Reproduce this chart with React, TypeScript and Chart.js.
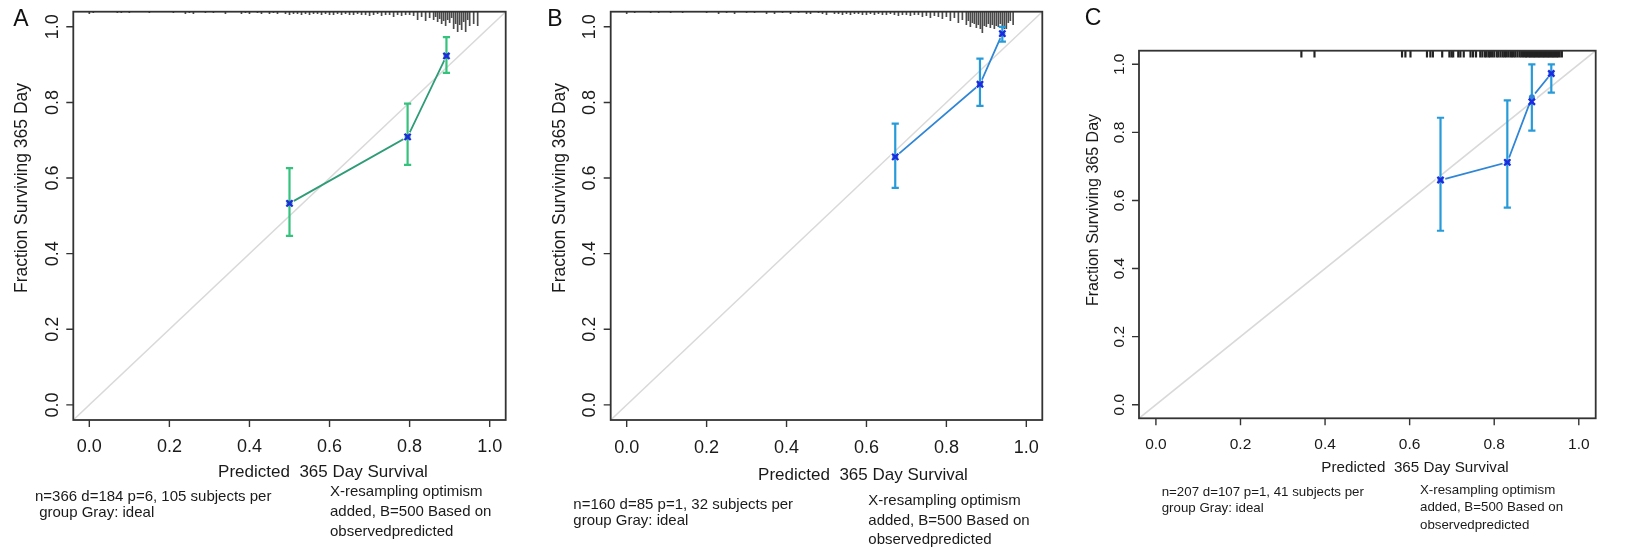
import React, { useEffect, useRef } from "react";
import { Chart, registerables } from "chart.js";

Chart.register(...registerables);

// ---------- shared axis data ----------
const AXIS_MIN = -0.04;
const AXIS_MAX = 1.04;
const xTicks = [0, 0.2, 0.4, 0.6, 0.8, 1.0];
const xTickLabels = ["0.0", "0.2", "0.4", "0.6", "0.8", "1.0"];
const yTicks = [0, 0.2, 0.4, 0.6, 0.8, 1.0];
const yTickLabels = ["0.0", "0.2", "0.4", "0.6", "0.8", "1.0"];
const xTitle = "Predicted  365 Day Survival";
const yTitle = "Fraction Surviving 365 Day";

// ---------- panel A ----------
const predA = [0.5, 0.795, 0.892];
const obsA = [0.533, 0.709, 0.923];
const corrA = [0.533, 0.709, 0.923];
const loA = [0.447, 0.635, 0.878];
const hiA = [0.626, 0.797, 0.973];
const rugAx = [0.00, 0.01, 0.07, 0.08, 0.10, 0.15, 0.21, 0.24, 0.25, 0.26, 0.29, 0.31, 0.34, 0.38, 0.39, 0.40, 0.42, 0.43, 0.45, 0.46, 0.47, 0.49, 0.50, 0.51, 0.52, 0.53, 0.54, 0.55, 0.56, 0.57, 0.58, 0.59, 0.60, 0.61, 0.62, 0.63, 0.64, 0.65, 0.66, 0.67, 0.68, 0.69, 0.70, 0.71, 0.72, 0.73, 0.74, 0.75, 0.76, 0.77, 0.78, 0.79, 0.80, 0.81, 0.82, 0.83, 0.84, 0.85, 0.86, 0.865, 0.87, 0.875, 0.88, 0.885, 0.89, 0.895, 0.90, 0.905, 0.91, 0.915, 0.92, 0.925, 0.93, 0.935, 0.94, 0.945, 0.95, 0.96, 0.97];
const rugAn = [2, 1, 1, 1, 1, 1, 1, 2, 1, 2, 1, 1, 2, 2, 1, 2, 1, 2, 2, 1, 2, 2, 3, 2, 2, 3, 2, 3, 2, 2, 3, 2, 3, 3, 2, 3, 2, 3, 3, 2, 3, 3, 4, 3, 2, 4, 3, 3, 5, 3, 4, 3, 3, 4, 8, 5, 9, 6, 8, 5, 10, 7, 12, 9, 14, 8, 11, 6, 17, 12, 20, 13, 18, 10, 20, 8, 14, 12, 14];
const notesLeftA = ["n=366 d=184 p=6, 105 subjects per", " group Gray: ideal"];
const notesRightA = ["X-resampling optimism", "added, B=500 Based on", "observedpredicted"];

// ---------- panel B ----------
const predB = [0.672, 0.884, 0.94];
const obsB = [0.656, 0.848, 0.982];
const corrB = [0.656, 0.848, 0.982];
const loB = [0.574, 0.791, 0.961];
const hiB = [0.744, 0.916, 1.0];
const rugBx = [0.00, 0.02, 0.06, 0.08, 0.11, 0.14, 0.20, 0.23, 0.25, 0.27, 0.30, 0.32, 0.35, 0.37, 0.39, 0.41, 0.43, 0.45, 0.46, 0.48, 0.49, 0.50, 0.52, 0.53, 0.54, 0.55, 0.56, 0.57, 0.58, 0.59, 0.60, 0.61, 0.62, 0.63, 0.64, 0.65, 0.66, 0.67, 0.68, 0.69, 0.70, 0.71, 0.72, 0.73, 0.74, 0.75, 0.76, 0.77, 0.78, 0.79, 0.80, 0.81, 0.82, 0.83, 0.84, 0.85, 0.855, 0.86, 0.865, 0.87, 0.875, 0.88, 0.885, 0.89, 0.895, 0.90, 0.905, 0.91, 0.915, 0.92, 0.925, 0.93, 0.935, 0.94, 0.945, 0.95, 0.955, 0.96, 0.967];
const rugBn = [2, 1, 1, 1, 1, 1, 1, 2, 1, 2, 1, 1, 2, 2, 1, 2, 1, 2, 2, 1, 2, 3, 2, 2, 3, 2, 3, 2, 2, 3, 3, 2, 3, 2, 3, 3, 2, 3, 4, 3, 3, 4, 3, 3, 5, 4, 6, 4, 5, 7, 5, 9, 6, 11, 8, 13, 9, 15, 11, 12, 16, 13, 17, 21, 14, 15, 12, 16, 13, 17, 14, 15, 12, 16, 18, 17, 11, 9, 13];
const notesLeftB = ["n=160 d=85 p=1, 32 subjects per", "group Gray: ideal"];
const notesRightB = ["X-resampling optimism", "added, B=500 Based on", "observedpredicted"];

// ---------- panel C ----------
const predC = [0.673, 0.831, 0.889, 0.935];
const obsC = [0.66, 0.712, 0.903, 0.973];
const corrC = [0.66, 0.712, 0.89, 0.973];
const loC = [0.511, 0.579, 0.805, 0.917];
const hiC = [0.843, 0.894, 1.0, 1.0];
const rugCx = [0.344, 0.375, 0.582, 0.590, 0.602, 0.641, 0.649, 0.655, 0.677, 0.694, 0.699, 0.703, 0.715, 0.720, 0.728, 0.744, 0.750, 0.757, 0.767, 0.772, 0.778, 0.782, 0.787, 0.790, 0.795, 0.800, 0.806, 0.810, 0.815, 0.820, 0.824, 0.828, 0.833, 0.838, 0.842, 0.846, 0.850, 0.855, 0.860, 0.864, 0.868, 0.872, 0.875, 0.878, 0.882, 0.885, 0.888, 0.891, 0.894, 0.897, 0.900, 0.903, 0.906, 0.909, 0.912, 0.915, 0.918, 0.921, 0.924, 0.927, 0.930, 0.933, 0.936, 0.939, 0.942, 0.945, 0.948, 0.951, 0.955, 0.960];
const notesLeftC = ["n=207 d=107 p=1, 41 subjects per", "group Gray: ideal"];
const notesRightC = ["X-resampling optimism", "added, B=500 Based on", "observedpredicted"];

const FONT = '"Liberation Sans", Arial, Helvetica, sans-serif';

type PanelCfg = {
  label: string;
  left: number;
  width: number;
  pad: { left: number; top: number; right: number; bottom: number };
  pred: number[]; obs: number[]; corr: number[]; lo: number[]; hi: number[];
  rugX: number[]; rugN: number[] | null; rugUnit: number;
  rugColor: string; rugThickness: number;
  lineColor: string; errColor: string;
  notesLeft: string[]; notesRight: string[];
  L: any;
};

const panels: PanelCfg[] = [
  {
    label: "A", left: 0, width: 540,
    pad: { left: 73.3, top: 11.7, right: 34.3, bottom: 131 },
    pred: predA, obs: obsA, corr: corrA, lo: loA, hi: hiA,
    rugX: rugAx, rugN: rugAn, rugUnit: 0.00265, rugColor: "#4a4a4a", rugThickness: 1,
    lineColor: "#2e9c77", errColor: "#35c27d",
    notesLeft: notesLeftA, notesRight: notesRightA,
    L: {
      labelX: 21, labelY: 20, labelSize: 23,
      tickFont: 18, tickLen: 7, xTickOffset: 26.7, yTickOffset: 20,
      xTitleX: 323, xTitleY: 472, xTitleSize: 17,
      yTitleX: 22, yTitleY: 188, yTitleSize: 17.5,
      nlX: 35, nlY: [496.7, 513.3], nrX: 330, nrY: [491.7, 511.7, 531.7], noteSize: 15,
    },
  },
  {
    label: "B", left: 540, width: 540,
    pad: { left: 70.7, top: 11.7, right: 37.7, bottom: 131 },
    pred: predB, obs: obsB, corr: corrB, lo: loB, hi: hiB,
    rugX: rugBx, rugN: rugBn, rugUnit: 0.00265, rugColor: "#4a4a4a", rugThickness: 1,
    lineColor: "#2f86d6", errColor: "#279bd9",
    notesLeft: notesLeftB, notesRight: notesRightB,
    L: {
      labelX: 15, labelY: 20, labelSize: 23,
      tickFont: 18, tickLen: 7, xTickOffset: 28.3, yTickOffset: 20.7,
      xTitleX: 323, xTitleY: 475, xTitleSize: 17,
      yTitleX: 20, yTitleY: 188, yTitleSize: 17.5,
      nlX: 33.3, nlY: [505, 520.7], nrX: 328.3, nrY: [500.7, 520.7, 540], noteSize: 15,
    },
  },
  {
    label: "C", left: 1080, width: 557,
    pad: { left: 59, top: 50.7, right: 41.3, bottom: 132.7 },
    pred: predC, obs: obsC, corr: corrC, lo: loC, hi: hiC,
    rugX: rugCx, rugN: null, rugUnit: 0.019, rugColor: "#222", rugThickness: 1.5,
    lineColor: "#2f86d6", errColor: "#279bd9",
    notesLeft: notesLeftC, notesRight: notesRightC,
    L: {
      labelX: 13, labelY: 19, labelSize: 23,
      tickFont: 15.5, tickLen: 7, xTickOffset: 26.7, yTickOffset: 19,
      xTitleX: 335, xTitleY: 468.3, xTitleSize: 15.2,
      yTitleX: 13.5, yTitleY: 210, yTitleSize: 16,
      nlX: 81.7, nlY: [492.7, 508.7], nrX: 340, nrY: [490, 507.7, 525.7], noteSize: 13.3,
    },
  },
];

const rStylePlugin = {
  id: "rStyle",
  afterDraw(chart: any, _args: any, opts: any) {
    const { ctx, chartArea: a, scales } = chart;
    const L = opts.layout;
    const cfg: PanelCfg = opts.cfg;
    ctx.save();
    // box
    ctx.strokeStyle = "#333";
    ctx.lineWidth = 1.8;
    ctx.strokeRect(a.left, a.top, a.right - a.left, a.bottom - a.top);
    // ticks
    ctx.lineWidth = 1.4;
    ctx.beginPath();
    xTicks.forEach((v) => {
      const px = scales.x.getPixelForValue(v);
      ctx.moveTo(px, a.bottom);
      ctx.lineTo(px, a.bottom + L.tickLen);
    });
    yTicks.forEach((v) => {
      const py = scales.y.getPixelForValue(v);
      ctx.moveTo(a.left, py);
      ctx.lineTo(a.left - L.tickLen, py);
    });
    ctx.stroke();
    // tick labels
    ctx.fillStyle = "#1a1a1a";
    ctx.textAlign = "center";
    ctx.textBaseline = "middle";
    ctx.font = `${L.tickFont}px ${FONT}`;
    xTicks.forEach((v, i) => {
      ctx.fillText(xTickLabels[i], scales.x.getPixelForValue(v), a.bottom + L.xTickOffset);
    });
    yTicks.forEach((v, i) => {
      ctx.save();
      ctx.translate(a.left - L.yTickOffset, scales.y.getPixelForValue(v));
      ctx.rotate(-Math.PI / 2);
      ctx.fillText(yTickLabels[i], 0, 0);
      ctx.restore();
    });
    // axis titles
    ctx.font = `${L.xTitleSize}px ${FONT}`;
    ctx.fillText(xTitle, L.xTitleX, L.xTitleY);
    ctx.save();
    ctx.translate(L.yTitleX, L.yTitleY);
    ctx.rotate(-Math.PI / 2);
    ctx.font = `${L.yTitleSize}px ${FONT}`;
    ctx.fillText(yTitle, 0, 0);
    ctx.restore();
    // panel label
    ctx.font = `${L.labelSize}px ${FONT}`;
    ctx.fillStyle = "#111";
    ctx.fillText(cfg.label, L.labelX, L.labelY);
    // notes
    ctx.fillStyle = "#1a1a1a";
    ctx.textAlign = "left";
    ctx.font = `${L.noteSize}px ${FONT}`;
    cfg.notesLeft.forEach((t, i) => ctx.fillText(t, L.nlX, L.nlY[i]));
    cfg.notesRight.forEach((t, i) => ctx.fillText(t, L.nrX, L.nrY[i]));
    ctx.restore();
  },
};

function buildDatasets(p: PanelCfg) {
  const ds: any[] = [];
  ds.push({
    type: "scatter",
    data: p.pred.map((x, i) => ({ x, y: p.corr[i] })),
    pointStyle: "crossRot",
    pointRadius: 4.4,
    borderColor: "#1c2be0",
    borderWidth: 2.3,
    order: 0,
  });
  ds.push({
    type: "scatter",
    data: p.pred.map((x, i) => ({ x, y: p.obs[i] })),
    pointStyle: "circle",
    pointRadius: 3,
    backgroundColor: p.lineColor,
    borderWidth: 0,
    order: 1,
  });
  p.pred.forEach((x, i) => {
    ds.push({
      type: "line",
      data: [{ x, y: p.lo[i] }, { x, y: p.hi[i] }],
      borderColor: p.errColor,
      borderWidth: 2.2,
      pointRadius: 0,
      order: 2,
    });
  });
  ds.push({
    type: "scatter",
    data: [
      ...p.pred.map((x, i) => ({ x, y: p.lo[i] })),
      ...p.pred.map((x, i) => ({ x, y: p.hi[i] })),
    ],
    pointStyle: "line",
    pointRadius: 3.6,
    borderColor: p.errColor,
    borderWidth: 2.2,
    order: 2,
  });
  ds.push({
    type: "line",
    data: p.pred.map((x, i) => ({ x, y: p.obs[i] })),
    borderColor: p.lineColor,
    borderWidth: 1.8,
    pointRadius: 5,
    pointBackgroundColor: "#ffffff",
    pointBorderWidth: 0,
    order: 3,
  });
  ds.push({
    type: "line",
    data: [{ x: AXIS_MIN, y: AXIS_MIN }, { x: AXIS_MAX, y: AXIS_MAX }],
    borderColor: "#d9d9d9",
    borderWidth: 1.5,
    pointRadius: 0,
    order: 4,
  });
  ds.push({
    type: "bar",
    data: p.rugX.map((x, i) => ({
      x,
      y: [AXIS_MAX - (p.rugN ? p.rugN[i] : 1) * p.rugUnit, AXIS_MAX],
    })),
    backgroundColor: p.rugColor,
    borderWidth: 0,
    barThickness: p.rugThickness,
    grouped: false,
    order: 5,
  });
  return ds;
}

function Panel({ cfg }: { cfg: PanelCfg }) {
  const ref = useRef<HTMLCanvasElement | null>(null);
  useEffect(() => {
    if (!ref.current) return;
    const chart = new Chart(ref.current, {
      type: "scatter",
      data: { datasets: buildDatasets(cfg) },
      options: {
        animation: false,
        responsive: false,
        devicePixelRatio: 1,
        events: [],
        layout: { padding: cfg.pad },
        scales: {
          x: { type: "linear", min: AXIS_MIN, max: AXIS_MAX, display: false, offset: false },
          y: { type: "linear", min: AXIS_MIN, max: AXIS_MAX, display: false },
        },
        plugins: {
          legend: { display: false },
          tooltip: { enabled: false },
          rStyle: { layout: cfg.L, cfg },
        } as any,
      },
      plugins: [rStylePlugin],
    } as any);
    return () => chart.destroy();
  }, [cfg]);
  return (
    <canvas
      ref={ref}
      width={cfg.width}
      height={551}
      style={{ position: "absolute", left: cfg.left, top: 0, width: cfg.width, height: 551 }}
    />
  );
}

export default function App() {
  return (
    <div style={{ position: "absolute", left: 0, top: 0, width: 1637, height: 551, background: "#fff", overflow: "hidden" }}>
      {panels.map((p) => (
        <Panel key={p.label} cfg={p} />
      ))}
    </div>
  );
}
